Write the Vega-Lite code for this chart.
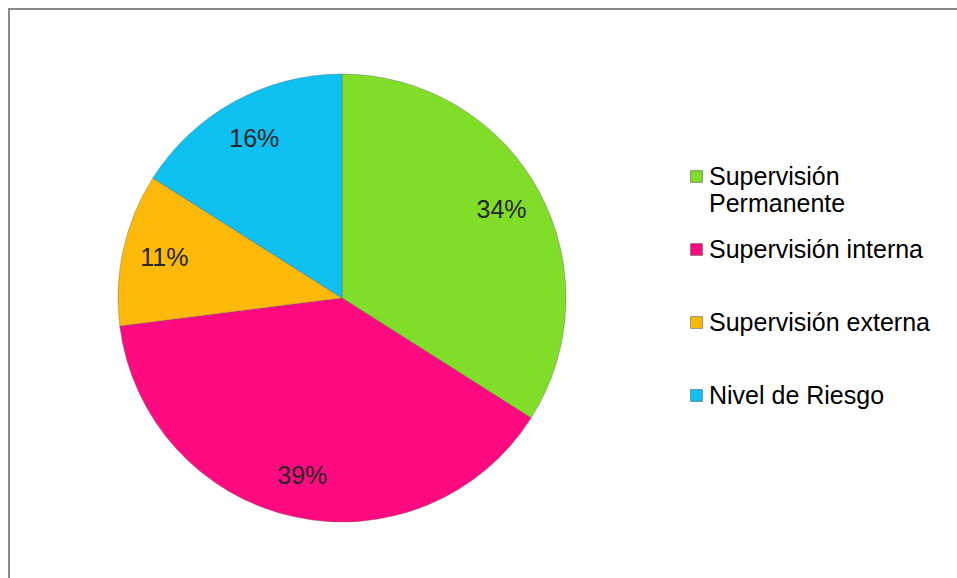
{
  "$schema": "https://vega.github.io/schema/vega-lite/v6.json",
  "width": 960,
  "height": 580,
  "padding": {"left": 9, "top": 9, "right": 0, "bottom": 0},
  "background": "white",
  "view": {"stroke": "#898989", "strokeWidth": 2, "fill": "white"},
  "data": {
    "values": [
      {"categoria": "Supervisión Permanente", "valor": 34, "etiqueta": "34%", "orden": 1},
      {"categoria": "Supervisión interna", "valor": 39, "etiqueta": "39%", "orden": 2},
      {"categoria": "Supervisión externa", "valor": 11, "etiqueta": "11%", "orden": 3},
      {"categoria": "Nivel de Riesgo", "valor": 16, "etiqueta": "16%", "orden": 4}
    ]
  },
  "encoding": {
    "theta": {"field": "valor", "type": "quantitative", "stack": true},
    "order": {"field": "orden", "type": "quantitative"}
  },
  "layer": [
    {
      "mark": {"type": "arc", "x": 333, "y": 289, "outerRadius": 224, "stroke": "#5a5a5a", "strokeWidth": 0.6, "strokeOpacity": 0.6},
      "encoding": {
        "color": {
          "field": "categoria",
          "type": "nominal",
          "scale": {
            "domain": ["Supervisión Permanente", "Supervisión interna", "Supervisión externa", "Nivel de Riesgo"],
            "range": ["#80DD28", "#FF0A80", "#FDB90A", "#0EC0F0"]
          },
          "legend": {
            "orient": "none",
            "legendX": 675,
            "legendY": 155,
            "title": null,
            "symbolType": "square",
            "symbolSize": 140,
            "symbolStrokeWidth": 0.5,
            "symbolStrokeColor": "#444",
            "labelFont": "Liberation Sans",
            "labelFontSize": 25,
            "labelColor": "#000000",
            "labelOffset": 0,
            "labelLimit": 400,
            "labelBaseline": "middle",
            "labelLineHeight": 29,
            "gridAlign": "all",
            "rowPadding": 20,
            "labelExpr": "datum.label == 'Supervisión Permanente' ? ['Supervisión', 'Permanente'] : datum.label"
          }
        }
      }
    },
    {
      "mark": {"type": "text", "x": 333, "y": 289, "radius": 182, "font": "Liberation Sans", "fontSize": 25, "color": "#262626", "baseline": "middle", "align": "center"},
      "encoding": {
        "text": {"field": "etiqueta", "type": "nominal"}
      }
    }
  ]
}
